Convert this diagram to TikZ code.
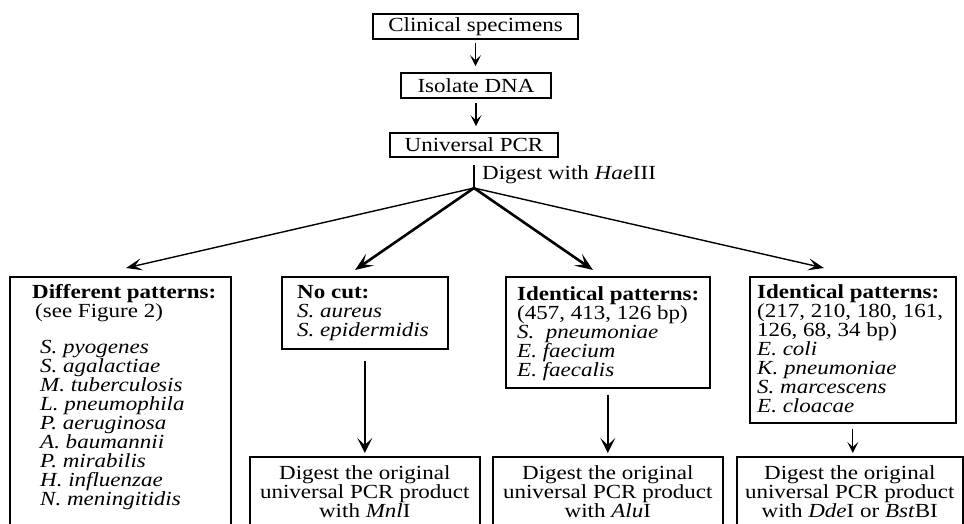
\documentclass[tikz,border=0pt]{standalone}
\usepackage{fontspec}
\setmainfont{Liberation Serif}[FakeStretch=1.15]
\usetikzlibrary{arrows.meta}

\begin{document}
\begin{tikzpicture}[x=1pt,y=-1pt,
  every node/.style={font=\fontsize{20}{19}\selectfont, inner sep=0pt},
  box/.style={draw, line width=1.6pt, inner sep=0pt},
  toparrow/.style={-{Stealth[length=11pt,width=11pt,inset=5pt]}, line width=1.3pt},
  fanarrow/.style={-{Stealth[length=16pt,width=12pt,inset=7pt]}, line width=1.4pt},
  thickarrow/.style={-{Stealth[length=18pt,width=14pt,inset=8pt]}, line width=2.6pt},
  downarrow/.style={-{Stealth[length=15pt,width=15pt,inset=7pt]}, line width=1.6pt},
]
\useasboundingbox (0,0) rectangle (964,523);
\clip (0,0) rectangle (964,523);

% top chain
\node[box, minimum width=205, minimum height=25] (clin) at (475.5,26.5) {Clinical specimens};
\node[box, minimum width=150, minimum height=25] (iso) at (476,85.5) {Isolate DNA};
\node[box, minimum width=168, minimum height=24] (pcr) at (474,145) {Universal PCR};

\draw[toparrow, shorten <=3pt, shorten >=6pt] (clin.south) -- (clin.south |- iso.north);
\draw[toparrow, shorten <=4pt, shorten >=6pt] (iso.south) -- (iso.south |- pcr.north);

% result boxes
\node[box, anchor=north west, minimum width=221, minimum height=280] (diff) at (9,276) {};
\node[box, anchor=north west, minimum width=166, minimum height=72] (nocut) at (281,276) {};
\node[box, anchor=north west, minimum width=204, minimum height=111] (ident1) at (505,276) {};
\node[box, anchor=north west, minimum width=206, minimum height=146] (ident2) at (749,276) {};

\node[box, anchor=north west, minimum width=230, minimum height=100] (dig1) at (249,456) {};
\node[box, anchor=north west, minimum width=230, minimum height=100] (dig2) at (492,456) {};
\node[box, anchor=north west, minimum width=226, minimum height=100] (dig3) at (736,456) {};

% texts inside
\node[anchor=north west, align=left] (difft) at (32,282) {\rule{0pt}{16pt}\textbf{Different patterns:}\\
  \hspace*{3pt}(see Figure 2)\\[17pt]
  \hspace*{8pt}\textit{S. pyogenes}\\
  \hspace*{8pt}\textit{S. agalactiae}\\
  \hspace*{8pt}\textit{M. tuberculosis}\\
  \hspace*{8pt}\textit{L. pneumophila}\\
  \hspace*{8pt}\textit{P. aeruginosa}\\
  \hspace*{8pt}\textit{A. baumannii}\\
  \hspace*{8pt}\textit{P. mirabilis}\\
  \hspace*{8pt}\textit{H. influenzae}\\
  \hspace*{8pt}\textit{N. meningitidis}};

\node[anchor=north west, align=left] (nocutt) at (297,282) {\rule{0pt}{16pt}\textbf{No cut:}\\
  \textit{S. aureus}\\
  \textit{S. epidermidis}};

\node[anchor=north west, align=left] (ident1t) at (517,284) {\rule{0pt}{16pt}\textbf{Identical patterns:}\\
  (457, 413, 126 bp)\\
  \textit{S.\ \ pneumoniae}\\
  \textit{E. faecium}\\
  \textit{E. faecalis}};

\node[anchor=north west, align=left] (ident2t) at (757,282) {\rule{0pt}{16pt}\textbf{Identical patterns:}\\
  (217, 210, 180, 161,\\
  126, 68, 34 bp)\\
  \textit{E. coli}\\
  \textit{K. pneumoniae}\\
  \textit{S. marcescens}\\
  \textit{E. cloacae}};

\node[anchor=north, align=center] (dig1t) at (dig1.north |- 0,463) {\rule{0pt}{16pt}Digest the original\\universal PCR product\\with \textit{Mnl}I};
\node[anchor=north, align=center] (dig2t) at (dig2.north |- 0,463) {\rule{0pt}{16pt}Digest the original\\universal PCR product\\with \textit{Alu}I};
\node[anchor=north, align=center] (dig3t) at (dig3.north |- 0,463) {\rule{0pt}{16pt}Digest the original\\universal PCR product\\with \textit{Dde}I or \textit{Bst}BI};

% fan from HaeIII digest
\coordinate (fan) at (474,188);
\draw[line width=1.3pt] ([yshift=-7pt]pcr.south) -- (fan);
\node[anchor=base west] (haelbl) at (482,179) {Digest with \textit{Hae}III};

\draw[fanarrow] (fan) -- ([xshift=117pt,yshift=8pt]diff.north west);
\draw[thickarrow] (fan) -- ([xshift=74pt,yshift=6pt]nocut.north west);
\draw[thickarrow] (fan) -- ([xshift=88pt,yshift=6pt]ident1.north west);
\draw[fanarrow] (fan) -- ([xshift=75pt,yshift=8pt]ident2.north west);

% downward arrows
\draw[downarrow, shorten <=11pt, shorten >=3pt] (nocut.south) -- (nocut.south |- dig1.north);
\draw[downarrow, shorten <=6pt, shorten >=3pt] (ident1.south) -- (ident1.south |- dig2.north);
\draw[toparrow, shorten <=5pt, shorten >=3pt] (ident2.south) -- (ident2.south |- dig3.north);
\end{tikzpicture}
\end{document}
